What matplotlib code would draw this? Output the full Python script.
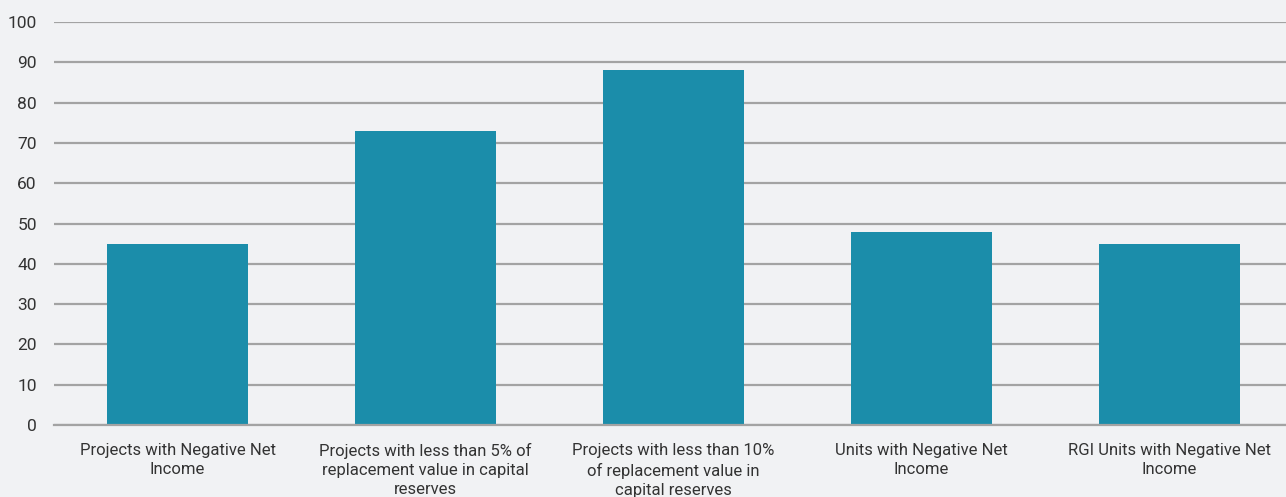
import matplotlib
matplotlib.use("Agg")
import matplotlib.pyplot as plt

categories = [
    "Projects with Negative Net\nIncome",
    "Projects with less than 5% of\nreplacement value in capital\nreserves",
    "Projects with less than 10%\nof replacement value in\ncapital reserves",
    "Units with Negative Net\nIncome",
    "RGI Units with Negative Net\nIncome",
]
values = [45, 73, 88, 48, 45]
yticks = [0, 10, 20, 30, 40, 50, 60, 70, 80, 90, 100]

bg = "#f1f2f4"
plt.rcParams['font.family'] = ['Roboto', 'DejaVu Sans']

W, H = 1286, 497
fig = plt.figure(figsize=(W / 100, H / 100), dpi=100, facecolor=bg)
left = 53.5 / W
bottom = (H - 425) / H
top = (H - 22) / H
ax = fig.add_axes([left, bottom, 1 - left, top - bottom], facecolor=bg)

x = list(range(len(categories)))
ax.set_axisbelow(True)
ax.yaxis.grid(True, color="#a3a3a3", linewidth=1.6)
ax.bar(x, values, width=0.57, color="#1b8daa", zorder=2)

ax.set_xlim(-0.5, -0.5 + (W - 53.5) / 248)
ax.set_ylim(0, 100)
ax.set_yticks(yticks)
ax.set_xticks(x)
ax.set_xticklabels(categories, fontsize=12, color="#333333", linespacing=1.35, va="top")
ax.tick_params(axis="y", labelsize=12.5, colors="#333333", length=0, pad=12)
ax.tick_params(axis="x", length=0, pad=13)
for s in ["top", "right", "left"]:
    ax.spines[s].set_visible(False)
ax.spines["bottom"].set_color("#a3a3a3")
ax.spines["bottom"].set_linewidth(1.6)

fig.savefig("out.png", dpi=100, facecolor=bg)
